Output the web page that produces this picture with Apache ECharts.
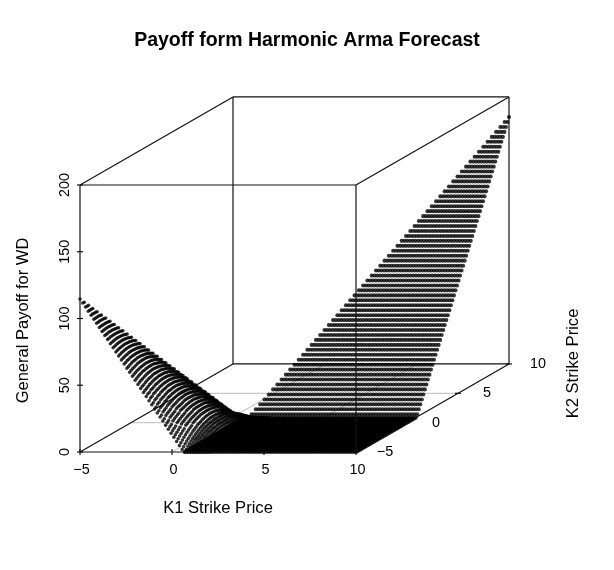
<!DOCTYPE html>
<html><head><meta charset="utf-8">
<style>html,body{margin:0;padding:0;background:#fff}#c{width:614px;height:570px}</style>
<script src="https://cdn.jsdelivr.net/npm/echarts@6/dist/echarts.min.js"></script>
</head><body><div id="c"></div>
<script>
// Strike grid: -5 to 10 in steps of 0.15 (101 values)
const strikeGrid = [-5,-4.85,-4.7,-4.55,-4.4,-4.25,-4.1,-3.95,-3.8,-3.65,-3.5,-3.35,-3.2,-3.05,-2.9,-2.75,-2.6,-2.45,-2.3,-2.15,-2,-1.85,-1.7,-1.55,-1.4,-1.25,-1.1,-0.95,-0.8,-0.65,-0.5,-0.35,-0.2,-0.05,0.1,0.25,0.4,0.55,0.7,0.85,1,1.15,1.3,1.45,1.6,1.75,1.9,2.05,2.2,2.35,2.5,2.65,2.8,2.95,3.1,3.25,3.4,3.55,3.7,3.85,4,4.15,4.3,4.45,4.6,4.75,4.9,5.05,5.2,5.35,5.5,5.65,5.8,5.95,6.1,6.25,6.4,6.55,6.7,6.85,7,7.15,7.3,7.45,7.6,7.75,7.9,8.05,8.2,8.35,8.5,8.65,8.8,8.95,9.1,9.25,9.4,9.55,9.7,9.85,10];
// Payoff along the low edge for K1 grid positions 0..37 (left wing)
const k1Payoff = [114.7,111.6,108.6,105.5,102.5,99.4,96.4,93.3,90.3,87.2,84.2,81.1,78.1,75.0,72.0,68.9,65.9,62.8,59.8,56.7,53.7,50.6,47.6,44.5,41.5,38.4,35.4,32.3,29.3,26.2,23.2,20.1,17.1,14.0,11.0,7.9,4.9,1.8];
// Peak rise in the middle of each arc, K1 grid positions 0..47
const k1ArcRise = [0,0,0,0.1,0.2,0.3,0.4,0.5,0.7,0.9,1.1,1.3,1.6,1.9,2.2,2.5,2.8,3.2,3.6,4,4.4,4.9,5.3,5.8,6.3,6.9,7.4,8,8.6,9.3,9.9,10.6,11.3,12,12.7,13.5,14.3,15.1,14.7,13,11.5,10,8.5,7,5.5,4,2.5,1];
// Share of that rise across an arc's length
const arcProfile = [0,0.1,0.2,0.29,0.38,0.46,0.53,0.6,0.66,0.72,0.78,0.82,0.86,0.9,0.93,0.96,0.98,0.99,1,1,1,0.99,0.98,0.96,0.93,0.9,0.86,0.82,0.78,0.72,0.66,0.6,0.53,0.46,0.38,0.29,0.2,0.1,0];
// Payoff for K2 grid positions 40..100 (right wing rows)
const k2Payoff = [1.9,5,8,11,14.1,17.2,20.2,23.3,26.3,29.4,32.4,35.5,38.5,41.6,44.6,47.7,50.7,53.8,56.8,59.9,62.9,66,69,72.1,75.1,78.2,81.2,84.3,87.3,90.4,93.4,96.5,99.5,102.6,105.6,108.7,111.7,114.8,117.8,120.9,123.9,127,130,133.1,136.1,139.2,142.2,145.3,148.3,151.4,154.4,157.5,160.5,163.6,166.6,169.7,172.7,175.8,178.8,181.9,184.9];
const k1Ticks = [-5,0,5,10];
const k2Ticks = [-5,0,5,10];
const zTicks = [0,50,100,150,200];
const title = 'Payoff form Harmonic Arma Forecast';
const k1Title = 'K1 Strike Price', k2Title = 'K2 Strike Price', zTitle = 'General Payoff for WD';

// scatterplot3d-style oblique projection onto the plot plane
const box = {x0:80, y0:452, xs:18.4, zs:1.335, dx:10.2, dy:5.87};
const project = (k1,k2,z) => [
  box.x0 + (k1+5)*box.xs + (k2+5)*box.dx,
  box.y0 - (k2+5)*box.dy - z*box.zs
];

const wingPoints = [], flatPoints = [];
strikeGrid.forEach((k1,i)=>{
  strikeGrid.forEach((k2,j)=>{
    if (j>i) return;
    if (j>=40) { flatPoints.push(project(k1,k2,k2Payoff[j-40])); return; }
    if (i>=k1Payoff.length) flatPoints.push(project(k1,k2,0));
    if (i<k1ArcRise.length) {
      const last = Math.min(i,39);
      const pos = last===0 ? 0 : Math.round(j/last*(arcProfile.length-1));
      wingPoints.push(project(k1,k2,(i<k1Payoff.length ? k1Payoff[i] : 0) + k1ArcRise[i]*arcProfile[pos]));
    }
  });
});

const seg = (a,b,color,z,w)=>({type:'line',data:[a,b],symbol:'none',silent:true,z:z,
  lineStyle:{color:color,width:w||1.2},animation:false});
const dots = (data,size)=>({type:'scatter',data:data,symbol:'circle',symbolSize:size,silent:true,z:3,
  itemStyle:{color:'#000'},animation:false,progressive:0,large:false});
const series = [];
// floor grid
k1Ticks.slice(1,3).forEach(k=>series.push(seg(project(k,-5,0),project(k,10,0),'#c8c8c8',1)));
k2Ticks.slice(1,3).forEach(k=>series.push(seg(project(-5,k,0),project(10,k,0),'#c8c8c8',1)));
// back of box
const C=(a,b,c)=>project(a,b,c);
[[C(-5,10,0),C(10,10,0)],[C(-5,10,0),C(-5,10,200)],[C(-5,10,200),C(10,10,200)],[C(10,10,0),C(10,10,200)],
 [C(-5,-5,0),C(-5,10,0)],[C(10,-5,0),C(10,10,0)],[C(-5,-5,200),C(-5,10,200)],[C(10,-5,200),C(10,10,200)]]
 .forEach(s=>series.push(seg(s[0],s[1],'#111',2)));
// points
series.push(dots(wingPoints,3.5));
series.push(dots(flatPoints,4.1));
// front of box
[[C(-5,-5,0),C(10,-5,0)],[C(-5,-5,0),C(-5,-5,200)],[C(10,-5,0),C(10,-5,200)],[C(-5,-5,200),C(10,-5,200)]]
 .forEach(s=>series.push(seg(s[0],s[1],'#111',4)));
// ticks
zTicks.forEach(v=>{const p=C(-5,-5,v);series.push(seg([p[0]-3,p[1]],[p[0]+3,p[1]],'#111',4));});
k1Ticks.forEach(v=>{const p=C(v,-5,0);series.push(seg([p[0],p[1]-3],[p[0],p[1]+3],'#111',4));});
k2Ticks.forEach(v=>{const p=C(10,v,0);series.push(seg([p[0]-3,p[1]],[p[0]+3,p[1]],'#111',4));});

const FONT = '"Liberation Sans", Arial, sans-serif';
const lab = v=>String(v).replace('-','\u2212');
const textEl=(x,y,text,size,rot,weight)=>({type:'text',x:x,y:y,rotation:rot||0,z:10,
  style:{text:text,font:(weight||'normal')+' '+size+'px '+FONT,fill:'#000',textAlign:'center',textVerticalAlign:'middle'}});
const graphics=[
  textEl(307,41,title,19.5,0,'bold'),
  textEl(218,508,k1Title,16.6),
  textEl(23,320.5,zTitle,16.5,Math.PI/2),
  textEl(573,363.5,k2Title,16.6,Math.PI/2)
];
k1Ticks.forEach(v=>{const p=C(v,-5,0);graphics.push(textEl(p[0]+1.5,p[1]+18,lab(v),14.4));});
k2Ticks.forEach(v=>{const p=C(10,v,0);graphics.push(textEl(p[0]+29,p[1],lab(v),14.4));});
zTicks.forEach(v=>{const p=C(-5,-5,v);graphics.push(textEl(p[0]-15,p[1],lab(v),14.4,Math.PI/2));});

const chart = echarts.init(document.getElementById('c'),null,{renderer:'canvas'});
chart.setOption({
  animation:false,backgroundColor:'#fff',
  grid:{left:0,top:0,width:614,height:570},
  xAxis:{type:'value',min:0,max:614,show:false},
  yAxis:{type:'value',min:0,max:570,inverse:true,show:false},
  tooltip:{show:false},
  series:series,
  graphic:graphics
});
</script></body></html>
